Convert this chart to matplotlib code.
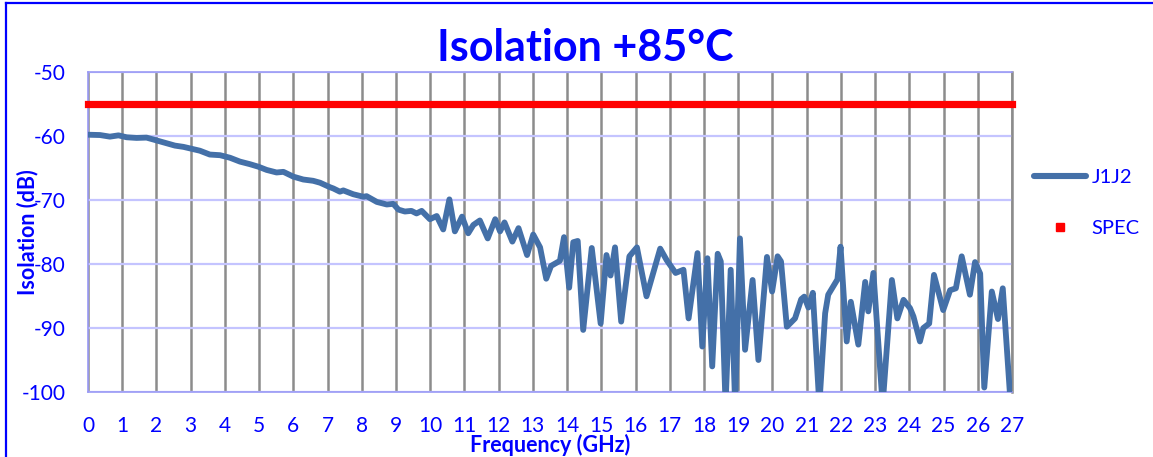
import matplotlib
matplotlib.use("Agg")
import matplotlib.pyplot as plt
from matplotlib.lines import Line2D

# J1J2 isolation trace (GHz, dB)
freq = [0.00, 0.35, 0.64, 0.89, 1.13, 1.42, 1.71, 2.01, 2.30, 2.54, 2.79, 3.03,
        3.27, 3.56, 3.86, 4.15, 4.44, 4.73, 4.98, 5.22, 5.51, 5.71, 6.00, 6.29,
        6.58, 6.78, 7.07, 7.17, 7.36, 7.46, 7.75, 8.05, 8.14, 8.44, 8.73, 8.92,
        9.07, 9.26, 9.45, 9.60, 9.75, 9.99, 10.19, 10.38, 10.56, 10.72, 10.93,
        11.11, 11.26, 11.45, 11.68, 11.90, 12.04, 12.17, 12.40, 12.58, 12.83,
        13.01, 13.21, 13.39, 13.53, 13.79, 13.91, 14.06, 14.18, 14.31, 14.47,
        14.72, 14.98, 15.15, 15.27, 15.40, 15.58, 15.82, 16.04, 16.32, 16.57,
        16.72, 16.91, 17.17, 17.40, 17.55, 17.81, 17.95, 18.10, 18.24, 18.40,
        18.49, 18.63, 18.78, 18.91, 19.05, 19.20, 19.42, 19.59, 19.84, 19.99,
        20.15, 20.25, 20.42, 20.66, 20.84, 20.93, 21.05, 21.18, 21.37, 21.54,
        21.63, 21.83, 21.90, 21.99, 22.17, 22.29, 22.51, 22.71, 22.80, 22.95,
        23.22, 23.49, 23.65, 23.83, 24.02, 24.12, 24.31, 24.41, 24.58, 24.72,
        24.99, 25.19, 25.36, 25.53, 25.77, 25.92, 26.07, 26.19, 26.41, 26.59,
        26.73, 26.94]
j1j2 = [-59.8, -59.85, -60.1, -59.9, -60.2, -60.3, -60.25, -60.7, -61.15, -61.5,
        -61.7, -62.0, -62.3, -62.9, -63.0, -63.4, -64.0, -64.4, -64.8, -65.3,
        -65.7, -65.6, -66.35, -66.8, -67.0, -67.3, -68.0, -68.2, -68.7, -68.5,
        -69.1, -69.5, -69.4, -70.3, -70.7, -70.6, -71.5, -71.8, -71.7, -72.1,
        -71.7, -73.0, -72.5, -74.6, -69.9, -74.9, -72.6, -75.2, -73.9, -73.2,
        -76.0, -73.0, -74.9, -73.5, -76.5, -74.4, -78.6, -75.4, -77.4, -82.3,
        -80.3, -79.5, -75.8, -83.7, -76.6, -76.4, -90.3, -77.5, -89.3, -78.6,
        -81.8, -77.4, -89.0, -78.8, -77.4, -85.05, -80.4, -77.6, -79.4, -81.4,
        -80.9, -88.5, -78.3, -92.9, -79.1, -96.0, -78.4, -79.6, -102.0, -80.9,
        -102.0, -76.0, -93.4, -82.5, -95.0, -78.9, -84.3, -78.8, -79.6, -89.8,
        -88.5, -85.5, -85.1, -86.8, -84.5, -102.0, -87.7, -84.8, -83.0, -82.4,
        -77.3, -92.1, -85.9, -92.6, -82.8, -87.4, -81.4, -102.0, -82.5, -88.5,
        -85.6, -86.9, -88.2, -92.1, -90.0, -89.3, -81.7, -87.2, -84.1, -83.8,
        -78.8, -84.8, -79.7, -81.5, -99.3, -84.3, -88.6, -83.8, -100.3]

spec_freq = [0, 27]
spec = [-55, -55]

x_ticks = list(range(0, 28))
y_ticks = [-50, -60, -70, -80, -90, -100]

BLUE = "#0000FF"
TRACE = "#4470A8"
plt.rcParams["font.family"] = ["Lato", "DejaVu Sans"]
plt.rcParams["axes.unicode_minus"] = False

fig = plt.figure(figsize=(11.53, 4.57), dpi=100)
ax = fig.add_axes([88 / 1153, 1 - 392 / 457, 924 / 1153, 320 / 457])

ax.plot(freq, j1j2, color=TRACE, lw=4.2, solid_joinstyle="round",
        solid_capstyle="round", label="J1J2", zorder=3)
ax.plot(spec_freq, spec, color="#FF0000", lw=5.2, solid_capstyle="projecting",
        clip_on=False, label="SPEC", zorder=4)

ax.set_xlim(0, 27)
ax.set_ylim(-100, -50)
ax.set_xticks(x_ticks)
ax.set_yticks(y_ticks)
ax.tick_params(length=0, labelsize=15, labelcolor=BLUE)
ax.tick_params(axis="x", pad=17)
ax.tick_params(axis="y", pad=16)
ax.grid(axis="y", color="#C4C4FF", lw=1.6, zorder=0)
ax.grid(axis="x", color="#8C8C8C", lw=1.8, zorder=0)
for side in ["left", "bottom", "top"]:
    ax.spines[side].set_color("#9A9AF5")
    ax.spines[side].set_linewidth(1.2)
ax.spines["right"].set_color("#8C8C8C")
ax.spines["right"].set_linewidth(1.8)

ax.set_xlabel("Frequency (GHz)", fontsize=15.5, fontweight="bold", color=BLUE,
              labelpad=-1)
ax.set_ylabel("Isolation (dB)", fontsize=15.5, fontweight="bold", color=BLUE,
              labelpad=-12)
fig.text(0.5075, 0.895, "Isolation +85°C", ha="center", va="center",
         fontsize=31, fontweight="bold", color=BLUE)

handles = [Line2D([], [], color=TRACE, lw=4.4, solid_capstyle="round"),
           Line2D([], [], color="#FF0000", ls="none", marker="s", ms=6)]
fig.legend(handles, ["J1J2", "SPEC"], loc="center left",
           bbox_to_anchor=(1016 / 1153, 1 - 203 / 457), frameon=False,
           fontsize=14.5, labelcolor=BLUE, handlelength=2.6, handletextpad=0.25,
           labelspacing=1.7)

# blue frame (left and top edges only are visible in the crop)
fig.add_artist(Line2D([6 / 1153, 6 / 1153], [0, 1 - 3 / 457], color=BLUE, lw=1.6))
fig.add_artist(Line2D([6 / 1153, 1], [1 - 3 / 457, 1 - 3 / 457], color=BLUE, lw=1.6))

fig.savefig("out.png", dpi=100)
